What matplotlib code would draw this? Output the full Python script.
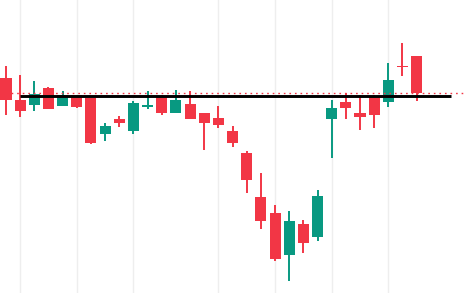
import matplotlib
matplotlib.use("Agg")
import matplotlib.pyplot as plt
import numpy as np

# OHLC data (price units)
opens  = [222.0, 200.3, 195.3, 212.0, 194.3, 205.0, 202.0, 166.3, 181.0, 169.3,
          193.3, 204.0, 187.3, 196.0, 187.0, 182.0, 169.0, 147.0, 103.0, 87.0,
          45.3, 76.0, 63.3, 181.3, 198.0, 187.0, 204.0, 198.3, 234.3, 244.0]
highs  = [234.3, 225.0, 219.0, 213.0, 209.0, 205.5, 202.0, 177.0, 184.3, 199.3,
          209.0, 205.0, 210.0, 209.0, 187.0, 194.0, 174.0, 149.0, 127.0, 95.0,
          89.0, 80.0, 110.0, 200.0, 206.7, 205.0, 205.0, 237.0, 257.0, 244.0]
lows   = [185.3, 183.3, 189.3, 191.3, 194.3, 192.3, 156.3, 159.3, 173.3, 166.3,
          191.3, 185.3, 187.3, 181.3, 150.3, 172.3, 153.3, 107.3, 71.3, 39.3,
          19.3, 47.3, 59.3, 142.3, 181.3, 170.3, 172.3, 193.3, 224.3, 199.3]
closes = [200.3, 189.3, 206.0, 191.3, 205.0, 193.3, 157.3, 174.0, 177.3, 197.0,
          195.0, 187.3, 200.0, 181.3, 177.3, 175.3, 157.3, 120.3, 79.3, 41.3,
          79.0, 57.3, 104.0, 192.0, 192.3, 183.3, 185.3, 220.0, 232.7, 206.8]
grid_at = [1, 5, 9, 15, 19, 23, 27]
level = 204.5
level_start, level_end = 1, 31.4

up_color = "#089981"
down_color = "#F23645"

fig = plt.figure(figsize=(4.71, 2.93), dpi=100)
ax = fig.add_axes([0, 0, 1, 1])
ax.set_xlim(-0.424, 32.84)
ax.set_ylim(7, 300)
for s in ax.spines.values():
    s.set_visible(False)
ax.set_xticks([])
ax.set_yticks([])

for g in grid_at:
    ax.axvline(g, color="#eeeeee", lw=1.0, zorder=0)

idx = np.arange(len(opens))
colors = [up_color if c >= o else down_color for o, c in zip(opens, closes)]
ax.vlines(idx, lows, highs, colors=colors, lw=1.4, zorder=2)
bottoms = [min(o, c) for o, c in zip(opens, closes)]
heights = [max(abs(c - o), 1.2) for o, c in zip(opens, closes)]
ax.bar(idx, heights, bottom=bottoms, width=0.78, color=colors, zorder=3, linewidth=0)

# last price dotted line
ax.plot([-0.424, 32.3], [closes[-1], closes[-1]], color=down_color, lw=1.0,
        linestyle=(0, (1.2, 2.8)), zorder=4)
# horizontal black level line
ax.plot([level_start, level_end], [level, level], color="black", lw=2.1,
        solid_capstyle="butt", zorder=5)

fig.savefig("out.png", dpi=100)
